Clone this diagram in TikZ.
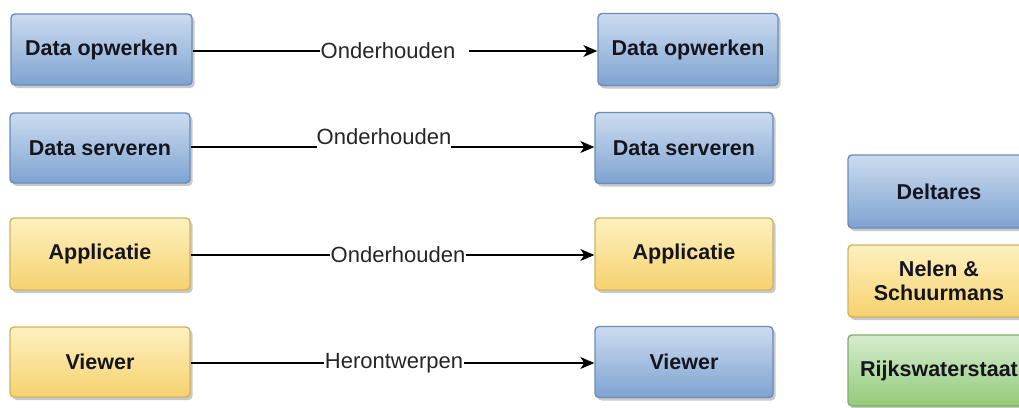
\documentclass[tikz,border=0pt]{standalone}
\usepackage{fontspec}
\setmainfont{Liberation Sans}
\usetikzlibrary{shadows,arrows.meta}
\definecolor{blueT}{HTML}{CCDCF0}
\definecolor{blueB}{HTML}{7EA3D0}
\definecolor{blueD}{HTML}{6A8CBB}
\definecolor{yelT}{HTML}{FDF0C0}
\definecolor{yelB}{HTML}{F6D26E}
\definecolor{yelD}{HTML}{D2B260}
\definecolor{grnT}{HTML}{D6EBCF}
\definecolor{grnB}{HTML}{92CB78}
\definecolor{grnD}{HTML}{7FAF66}
\definecolor{txt}{HTML}{15151F}
\tikzset{
  box/.style={rounded corners=4pt, line width=1.4pt, inner sep=0pt,
    font=\fontsize{21.5}{24}\selectfont\bfseries, text=txt, align=center,
    drop shadow={shadow xshift=2.5pt, shadow yshift=-3pt, opacity=0.3, fill=black!70}},
  bluebox/.style={box, draw=blueD, top color=blueT, bottom color=blueB},
  yelbox/.style={box, draw=yelD, top color=yelT, bottom color=yelB},
  grnbox/.style={box, draw=grnD, top color=grnT, bottom color=grnB},
  lab/.style={font=\fontsize{22}{24}\selectfont, text=black!85, fill=white, inner xsep=1pt, inner ysep=0pt},
  conn/.style={line width=1.2pt, black},
  arr/.style={conn, -{Stealth[length=14pt, width=12pt, inset=4pt]}},
}
\begin{document}
\begin{tikzpicture}[x=1pt, y=-1pt]
\useasboundingbox (0,0) rectangle (1019,407);
% left boxes
\node[bluebox, minimum width=181pt, minimum height=71pt] (L1) at (101.5,49.5) {Data opwerken};
\node[bluebox, minimum width=180pt, minimum height=70pt] (L2) at (100,148) {Data serveren};
\node[yelbox, minimum width=180pt, minimum height=72pt] (L3) at (100,254) {Applicatie};
\node[yelbox, minimum width=180pt, minimum height=70pt] (L4) at (100,362) {Viewer};
% right boxes
\node[bluebox, minimum width=180pt, minimum height=72pt] (R1) at (688,49.5) {Data opwerken};
\node[bluebox, minimum width=178pt, minimum height=71pt] (R2) at (684,148) {Data serveren};
\node[yelbox, minimum width=178pt, minimum height=72pt] (R3) at (684,254) {Applicatie};
\node[bluebox, minimum width=178pt, minimum height=71pt] (R4) at (684,362) {Viewer};
% legend
\node[bluebox, minimum width=182pt, minimum height=73pt] (G1) at (939,191.5) {Deltares};
\node[yelbox, minimum width=182pt, minimum height=72pt] (G2) at (939,281) {Nelen \&\\Schuurmans};
\node[grnbox, minimum width=182pt, minimum height=71pt] (G3) at (939,370.5) {Rijkswaterstaat};
% row 1
\node[lab] (a1) at (388,51) {Onderhouden};
\coordinate (a1r) at ([xshift=13pt]a1.east);
\draw[conn] (L1.east |- a1.west) -- (a1.west);
\draw[arr] (a1r) -- (R1.west |- a1r);
% row 2
\node[lab, anchor=base, inner sep=0pt] (a2) at (384,144) {Onderhouden};
\coordinate (s2) at (L2.east |- 0,147);
\draw[conn] (s2) -- (a2.west |- s2);
\draw[arr] (a2.east |- s2) -- (R2.west |- s2);
% row 3
\draw[arr] (L3.east |- 0,255) -- (R3.west |- 0,255);
\node[lab] (a3) at (398,255) {Onderhouden};
% row 4
\draw[arr] (L4.east |- 0,363) -- (R4.west |- 0,363);
\node[lab] (a4) at (394,363) {Herontwerpen};
\end{tikzpicture}
\end{document}
